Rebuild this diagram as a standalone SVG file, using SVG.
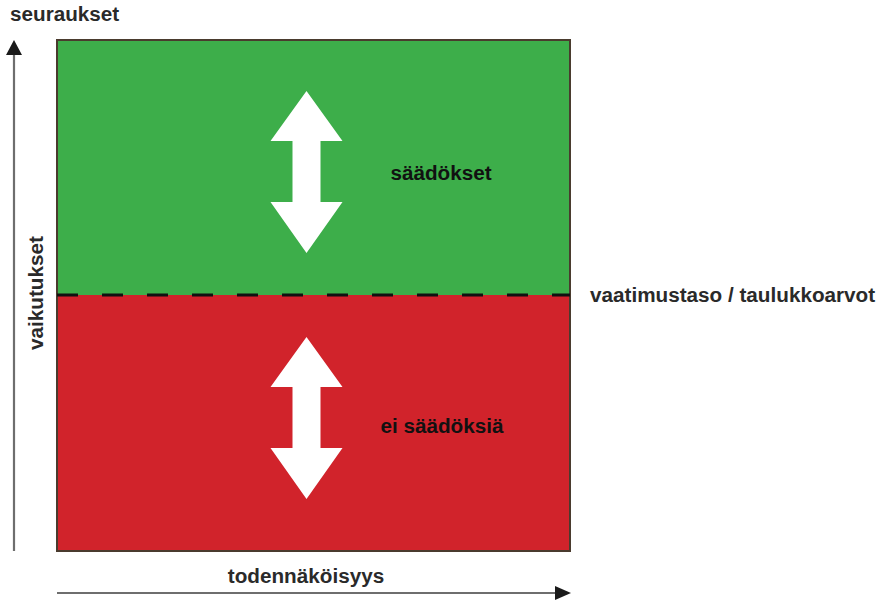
<svg xmlns="http://www.w3.org/2000/svg" width="888" height="602" viewBox="0 0 888 602">
<defs>
<style>
.lbl{font-family:"Liberation Sans",Arial,sans-serif;font-weight:bold;font-size:20.7px;fill:#2a2a2a}
.in{font-family:"Liberation Sans",Arial,sans-serif;font-weight:bold;font-size:20.7px;fill:#111}
.axis{stroke:#6e6e6e;stroke-width:2.2;fill:none}
.head{fill:#1a1a1a}
.warrow{fill:#ffffff}
</style>
<polygon id="dbl" points="0,0 36,50 14,50 14,111 36,111 0,162 -36,111 -14,111 -14,50 -36,50"/>
</defs>
<rect width="888" height="602" fill="#ffffff"/>
<g id="zone-green">
<rect x="57" y="40" width="513" height="255" fill="#3dae4a"/>
</g>
<g id="zone-red">
<rect x="57" y="295" width="513" height="256" fill="#d1232b"/>
</g>
<rect x="57" y="40" width="513" height="511" fill="none" stroke="#4a3b2e" stroke-width="2"/>
<g id="connectors">
<line x1="57" y1="295" x2="570" y2="295" stroke="#111" stroke-width="3" stroke-dasharray="21 24"/>
<line class="axis" x1="14" y1="551" x2="14" y2="52"/>
<polygon class="head" points="14,40 22,55 6,55"/>
<line class="axis" x1="57" y1="593" x2="558" y2="593"/>
<polygon class="head" points="571,593 555,586 555,600"/>
</g>
<g id="arrow-green">
<use href="#dbl" x="306.5" y="91" class="warrow"/>
</g>
<g id="arrow-red">
<use href="#dbl" x="306.5" y="337" class="warrow"/>
</g>
<g id="label-saadokset">
<text class="in" x="441" y="180" text-anchor="middle">säädökset</text>
</g>
<g id="label-ei-saadoksia">
<text class="in" x="442" y="433" text-anchor="middle">ei säädöksiä</text>
</g>
<g id="label-vaatimustaso">
<text class="lbl" x="590" y="302">vaatimustaso / taulukkoarvot</text>
</g>
<g id="label-seuraukset">
<text class="lbl" x="10" y="21">seuraukset</text>
</g>
<g id="label-vaikutukset">
<text class="lbl" transform="translate(43,293) rotate(-90)" text-anchor="middle">vaikutukset</text>
</g>
<g id="label-todennakoisyys">
<text class="lbl" x="306" y="583" text-anchor="middle">todennäköisyys</text>
</g>
</svg>
